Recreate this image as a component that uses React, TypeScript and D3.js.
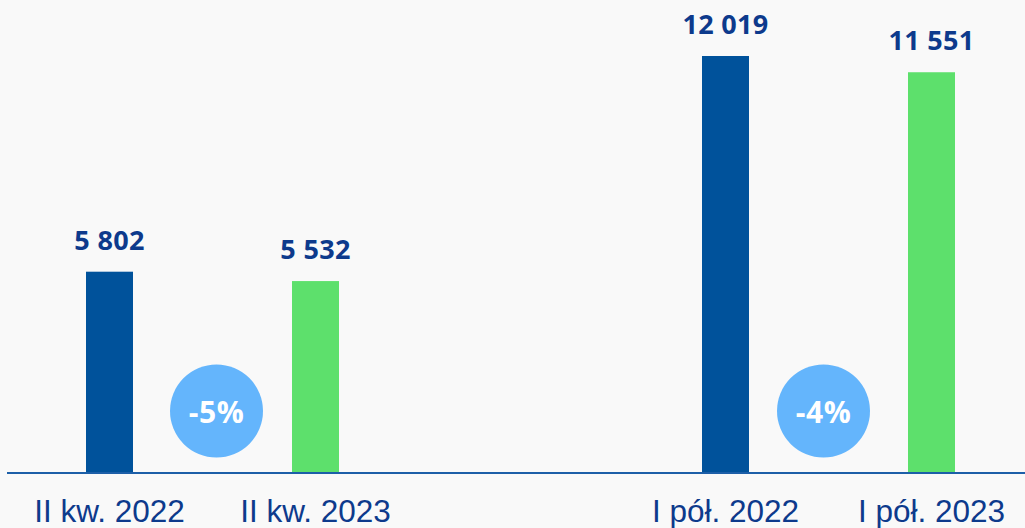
import React, { useEffect } from "react";
import * as d3 from "d3";

const groups = ["II kw.", "I pół."];
const series = ["2022", "2023"];
const categoryLabels = [
  ["II kw. 2022", "II kw. 2023"],
  ["I pół. 2022", "I pół. 2023"],
];
const values2022 = [5802, 12019];
const values2023 = [5532, 11551];
const changeLabels = ["-5%", "-4%"];

const W = 1025;
const H = 528;
const BASE_Y = 473;
const BAR_W = 47;
const COLORS: Record<string, string> = { "2022": "#00529b", "2023": "#5de06c" };
const TEXT = "#0d3a8c";

const fmt = (v: number) => d3.format(",")(v).replace(/,/g, " ");

export default function App() {
  useEffect(() => {
    document.body.style.margin = "0";
    document.body.style.background = "#f9f9f9";
  }, []);

  const x0 = d3.scalePoint<string>().domain(groups).range([212.5, 828.5]);
  const x1 = d3.scalePoint<string>().domain(series).range([-103, 103]);
  const y = d3.scaleLinear().domain([0, 12019]).range([BASE_Y, 56]);

  const rows = groups.flatMap((g, gi) =>
    series.map((s, si) => ({
      g,
      s,
      gi,
      si,
      v: s === "2022" ? values2022[gi] : values2023[gi],
      label: categoryLabels[gi][si],
    }))
  );

  return (
    <svg width={W} height={H} style={{ display: "block", background: "#f9f9f9" }}>
      <rect x={0} y={0} width={W} height={H} fill="#f9f9f9" />
      {rows.map((r) => {
        const cx = (x0(r.g) as number) + (x1(r.s) as number);
        return (
          <g key={r.label}>
            <rect
              x={cx - BAR_W / 2}
              y={y(r.v)}
              width={BAR_W}
              height={BASE_Y - y(r.v)}
              fill={COLORS[r.s]}
            />
            <text
              x={cx}
              y={y(r.v) - 22}
              textAnchor="middle"
              fontFamily="'Open Sans', sans-serif"
              fontWeight={700}
              fontSize={27}
              letterSpacing={0.3}
              fill={TEXT}
            >
              {fmt(r.v)}
            </text>
            <text
              x={cx}
              y={522}
              textAnchor="middle"
              fontFamily="'Liberation Sans', Arial, sans-serif"
              fontSize={31.5}
              fill={TEXT}
            >
              {r.label}
            </text>
          </g>
        );
      })}
      <line x1={7} x2={W} y1={BASE_Y} y2={BASE_Y} stroke="#1d5fa8" strokeWidth={2} />
      {groups.map((g, gi) => {
        const cx = (x0(g) as number) + (gi === 0 ? 4 : -5);
        return (
          <g key={g}>
            <circle cx={cx} cy={411} r={46.5} fill="#64b5fc" />
            <text
              x={cx}
              y={423}
              textAnchor="middle"
              fontFamily="'Open Sans', sans-serif"
              fontWeight={700}
              fontSize={30}
              letterSpacing={0.5}
              fill="#ffffff"
            >
              {changeLabels[gi]}
            </text>
          </g>
        );
      })}
    </svg>
  );
}
